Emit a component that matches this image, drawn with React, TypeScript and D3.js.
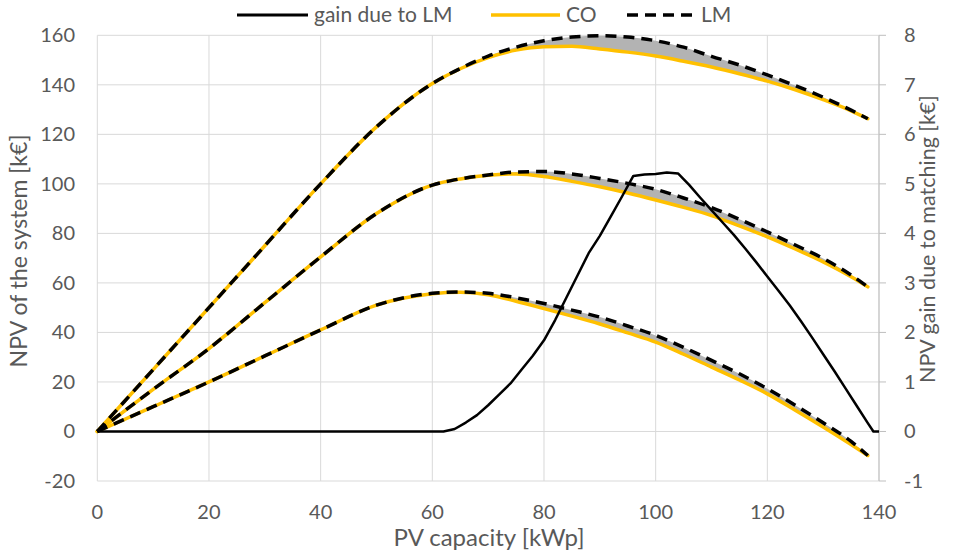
import * as d3 from 'd3';
import React, { useEffect, useRef } from 'react';

// PV capacity [kWp] for the NPV curves
const capacity = [0, 10, 20, 30, 40, 50, 60, 65, 70, 75, 80, 85, 90, 95, 100, 105, 110, 115, 120, 125, 130, 135, 138];

// NPV of the system [k€], three scenarios, CO (orange) and LM (dashed)
const coHigh = [0, 25, 50, 75, 100, 123, 140.5, 146.5, 151, 154, 155.4, 155.6, 154.5, 153.2, 151.6, 149.5, 147.2, 144.5, 141.5, 138, 134, 129.5, 126.3];
const lmHigh = [0, 25, 50, 75, 100, 123, 140.5, 146.6, 151.6, 155.2, 157.8, 159.3, 159.8, 159.3, 157.8, 155.2, 151.5, 148, 144, 139.7, 135, 129.8, 126.3];
const coMid = [0, 17, 33.5, 52, 70.5, 88, 99.5, 102, 103.5, 104, 103, 101, 98.8, 96.3, 93.5, 90.5, 87.2, 83, 78.6, 73.7, 68.5, 62.5, 58.4];
const lmMid = [0, 17, 33.5, 52, 70.5, 88, 99.5, 102, 103.6, 104.8, 105, 104, 102.2, 100.2, 97.8, 94.3, 90.4, 85.7, 80.6, 75.3, 69.9, 63.2, 58.4];
const coLow = [0, 10, 20, 30.5, 41, 51, 55.6, 56.2, 55.2, 52.6, 49.6, 46.6, 43.4, 39.8, 36.1, 31.2, 26, 20.8, 15.2, 8.6, 1.8, -5.3, -9.7];
const lmLow = [0, 10, 20, 30.5, 41, 51, 55.8, 56.3, 55.8, 54, 51.7, 49, 46.2, 42.6, 38.8, 34, 28.7, 23.3, 17.3, 10.6, 3.5, -4, -9.7];

// NPV gain due to matching [k€] (right axis)
const gainCapacity = [0, 62, 64, 66, 68, 70, 72, 74, 76, 78, 80, 82, 84, 86, 88, 90, 92, 94, 96, 98, 100, 102, 104, 106, 108, 110, 112, 114, 116, 118, 120, 122, 124, 126, 128, 130, 132, 134, 136, 138, 139, 140];
const gain = [0, 0, 0.05, 0.18, 0.33, 0.53, 0.75, 0.97, 1.25, 1.53, 1.84, 2.25, 2.7, 3.15, 3.6, 3.95, 4.35, 4.75, 5.16, 5.19, 5.2, 5.23, 5.21, 4.98, 4.72, 4.47, 4.22, 3.97, 3.7, 3.42, 3.13, 2.84, 2.55, 2.23, 1.9, 1.56, 1.22, 0.87, 0.52, 0.17, 0, 0];

const xTicks = [0, 20, 40, 60, 80, 100, 120, 140];
const yTicks = [-20, 0, 20, 40, 60, 80, 100, 120, 140, 160];
const y2Ticks = [-1, 0, 1, 2, 3, 4, 5, 6, 7, 8];

const FONT = 'Lato, "Open Sans", sans-serif';
const TXT = '#595959';

function App() {
    const ref = useRef(null);

    useEffect(() => {
        const svg = d3.select(ref.current);
        svg.selectAll('*').remove();

        const left = 97.3, right = 879, top = 35.3, bottom = 481;
        const x = d3.scaleLinear().domain([0, 140]).range([left, right]);
        const y = d3.scaleLinear().domain([-20, 160]).range([bottom, top]);
        const y2 = d3.scaleLinear().domain([-1, 8]).range([bottom, top]);

        // gridlines
        const grid = svg.append('g');
        grid.selectAll('line.h').data(yTicks).enter().append('line')
            .attr('x1', left).attr('x2', right)
            .attr('y1', d => y(d)).attr('y2', d => y(d))
            .attr('stroke', '#d9d9d9').attr('stroke-width', 1);
        grid.selectAll('line.v').data(xTicks).enter().append('line')
            .attr('y1', top).attr('y2', bottom)
            .attr('x1', d => x(d)).attr('x2', d => x(d))
            .attr('stroke', '#d9d9d9').attr('stroke-width', 1);
        // right axis with ticks
        svg.append('line').attr('x1', right).attr('x2', right).attr('y1', top).attr('y2', bottom)
            .attr('stroke', '#bfbfbf').attr('stroke-width', 1);
        svg.selectAll('line.t2').data(y2Ticks).enter().append('line')
            .attr('x1', right).attr('x2', right + 7)
            .attr('y1', d => y2(d)).attr('y2', d => y2(d))
            .attr('stroke', '#bfbfbf').attr('stroke-width', 1);

        // tick labels
        svg.selectAll('text.yl').data(yTicks).enter().append('text')
            .attr('x', 75).attr('y', d => y(d)).attr('dy', '0.35em')
            .attr('text-anchor', 'end').style('font-family', FONT).style('font-size', '20px')
            .attr('fill', TXT).text(d => d);
        svg.selectAll('text.y2l').data(y2Ticks).enter().append('text')
            .attr('x', 904).attr('y', d => y2(d)).attr('dy', '0.35em')
            .attr('text-anchor', 'start').style('font-family', FONT).style('font-size', '20px')
            .attr('fill', TXT).text(d => d);
        svg.selectAll('text.xl').data(xTicks).enter().append('text')
            .attr('x', d => x(d)).attr('y', 519)
            .attr('text-anchor', 'middle').style('font-family', FONT).style('font-size', '20px')
            .attr('fill', TXT).text(d => d);

        // axis titles
        svg.append('text').attr('transform', 'translate(27,251) rotate(-90)')
            .attr('text-anchor', 'middle').style('font-family', FONT).style('font-size', '23px')
            .attr('fill', TXT).text('NPV of the system [k€]');
        svg.append('text').attr('transform', 'translate(935,239) rotate(-90)')
            .attr('text-anchor', 'middle').style('font-family', FONT).style('font-size', '21.5px')
            .attr('fill', TXT).text('NPV gain due to matching [k€]');
        svg.append('text').attr('x', 489).attr('y', 546)
            .attr('text-anchor', 'middle').style('font-family', FONT).style('font-size', '24px')
            .attr('fill', TXT).text('PV capacity [kWp]');

        const curve = d3.curveMonotoneX;
        const pairs = [[coHigh, lmHigh], [coMid, lmMid], [coLow, lmLow]];

        // grey band between CO and LM
        const area = d3.area()
            .x((d, i) => x(capacity[i]))
            .y0(d => y(d[0]))
            .y1(d => y(d[1]))
            .curve(curve);
        pairs.forEach(([co, lm]) => {
            svg.append('path').datum(co.map((v, i) => [v, lm[i]]))
                .attr('d', area).attr('fill', '#b3b3b3');
        });

        const line = d3.line()
            .x((d, i) => x(capacity[i]))
            .y(d => y(d))
            .curve(curve);
        pairs.forEach(([co]) => {
            svg.append('path').datum(co).attr('d', line)
                .attr('fill', 'none').attr('stroke', '#ffc000').attr('stroke-width', 3.5)
                .attr('stroke-linecap', 'round');
        });
        pairs.forEach(([, lm]) => {
            svg.append('path').datum(lm).attr('d', line)
                .attr('fill', 'none').attr('stroke', '#000').attr('stroke-width', 3.5)
                .attr('stroke-dasharray', '11,7');
        });

        // gain due to LM
        const gainLine = d3.line()
            .x((d, i) => x(gainCapacity[i]))
            .y(d => y2(d));
        svg.append('path').datum(gain).attr('d', gainLine)
            .attr('fill', 'none').attr('stroke', '#000').attr('stroke-width', 2.5)
            .attr('stroke-linejoin', 'round');

        // legend
        const legend = [
            { name: 'gain due to LM', x1: 237, x2: 308, color: '#000', dash: null, w: 3 },
            { name: 'CO', x1: 491, x2: 560, color: '#ffc000', dash: null, w: 3.5 },
            { name: 'LM', x1: 627, x2: 695, color: '#000', dash: '11,7', w: 3.5 },
        ];
        legend.forEach(l => {
            svg.append('line').attr('x1', l.x1).attr('x2', l.x2).attr('y1', 15).attr('y2', 15)
                .attr('stroke', l.color).attr('stroke-width', l.w)
                .attr('stroke-dasharray', l.dash);
            svg.append('text').attr('x', l.x2 + 6).attr('y', 15).attr('dy', '0.35em')
                .style('font-family', FONT).style('font-size', '21px').attr('fill', TXT)
                .text(l.name);
        });
    }, []);

    return (
        <svg ref={ref} width={956} height={554}
            style={{ position: 'absolute', left: 0, top: 0, background: '#fff' }}></svg>
    );
}

export default App;
